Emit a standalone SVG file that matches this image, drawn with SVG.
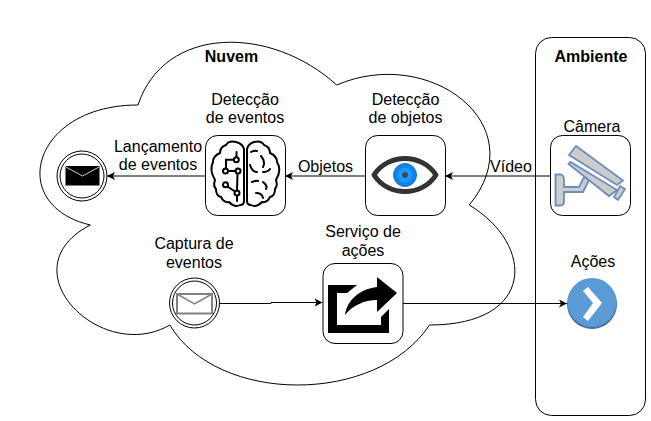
<svg xmlns="http://www.w3.org/2000/svg" width="651" height="421" viewBox="0 0 651 421">
<style>
text{font-family:"Liberation Sans",Arial,sans-serif;font-size:16px;fill:#000;text-anchor:middle}
.b{font-weight:bold}
.box{fill:#fff;stroke:#000;stroke-width:1}
.conn{fill:none;stroke:#000;stroke-width:1}
.brain{fill:none;stroke:#000;stroke-width:2;stroke-linecap:round}
.cam{fill:#ccc;stroke:#6c8ebf;stroke-width:1.800}
</style>
<defs>
<marker id="arrow" markerUnits="userSpaceOnUse" markerWidth="10" markerHeight="10" refX="8" refY="4" orient="auto">
<path d="M0 0L8 4L0 8L2 4Z" fill="#000"/>
</marker>
</defs>
<rect width="651" height="421" fill="#fff"/>
<g id="nuvem">
<path d="M138 105C32 105 5.500 205 90.300 225C5.500 269 100.900 365 169.800 325C217.500 405 376.500 405 429.500 325C535.500 325 535.500 245 469.250 205C535.500 125 429.500 45 336.750 85C270.500 25 164.500 25 138 105Z" fill="#fff" stroke="#000" stroke-width="1"/>
<text class="b" x="231.500" y="62">Nuvem</text>
</g>
<g id="ambiente">
<rect x="535.500" y="37.500" width="110" height="378" rx="16" fill="none" stroke="#000"/>
<text class="b" x="591" y="62">Ambiente</text>
</g>
<g id="connectors">
<path class="conn" d="M205 176H107" marker-end="url(#arrow)"/>
<path class="conn" d="M365 176H285" marker-end="url(#arrow)"/>
<path class="conn" d="M550 176H445" marker-end="url(#arrow)"/>
<path class="conn" d="M219 303.500H271V302.500H322.500" marker-end="url(#arrow)"/>
<path class="conn" d="M403 303.500H567" marker-end="url(#arrow)"/>
</g>
<g id="lancamento">
<circle cx="82" cy="176" r="25" fill="#fff" stroke="#000"/>
<circle cx="82" cy="176" r="22" fill="none" stroke="#000"/>
<rect x="65.500" y="166" width="34" height="19.500" fill="#000"/>
<path d="M66 167L82.500 176L99 167" fill="none" stroke="#fff" stroke-width="0.800"/>
<text x="158" y="151.500">Lançamento</text>
<text x="158" y="170">de eventos</text>
</g>
<g id="deteccao-eventos">
<rect class="box" x="205.500" y="135.500" width="80" height="80" rx="12"/>
<path class="brain" d="M244 201V149Q243 144 236 142Q229 140 226 145Q220 147 220 153Q213 156 213 162Q209 170 215 180Q213 186 216 189Q216 196 221 197Q224 203 229 202Q235 208 240 205Q244 205 244 201Z"/>
<path class="brain" d="M247 201V149Q248 144 254 142Q261 140 264 145Q270 147 270 153Q277 156 277 162Q282 170 276 180Q278 186 275 189Q275 196 270 197Q267 203 262 202Q256 208 251 205Q247 205 247 201Z"/>
<path class="brain" d="M236.500 152V157M233.800 159.700H226V168.500M228 171H235.500M237.500 174L237 190.500M237 195.500V201M227.500 186.500L235 191.500"/>
<circle class="brain" cx="236.300" cy="159.700" r="2.500"/>
<circle class="brain" cx="238" cy="171" r="2.500"/>
<circle class="brain" cx="225.500" cy="171" r="2.500"/>
<circle class="brain" cx="225.500" cy="184.700" r="2.500"/>
<circle class="brain" cx="237" cy="193" r="2.500"/>
<path class="brain" d="M251 152Q254 150 257 151M261 156Q266 162 263 167M250 165Q252 172 257 172M263 172Q268 172 270 169M252 182Q256 180 258 181M263 182Q268 186 266 189M256 193Q262 193 263 198"/>
<text x="245" y="105">Detecção</text>
<text x="245" y="123">de eventos</text>
</g>
<g id="deteccao-objetos">
<rect class="box" x="365.500" y="135.500" width="80" height="80" rx="12"/>
<path d="M374 175C388 153 422 153 436 175C422 197 388 197 374 175Z" fill="#fff" stroke="#333" stroke-width="5" stroke-linejoin="round"/>
<circle cx="405" cy="175" r="11.500" fill="#0a84ee" stroke="#2a6fb0"/>
<circle cx="405" cy="175" r="7.500" fill="#1e9bff"/>
<circle cx="405" cy="175" r="3" fill="#3c4a5a"/>
<text x="405.500" y="105">Detecção</text>
<text x="405.500" y="123">de objetos</text>
</g>
<g id="camera">
<rect class="box" x="550.500" y="135.500" width="80" height="80" rx="12"/>
<path class="cam" d="M555.500 174.500H561Q564 175.500 564 180V187H579L584 177L589 180L583 192H564V202Q564 205.500 560 205.500H555.500Z"/>
<path class="cam" d="M568.500 164L570.500 162L617 190L609 196Z"/>
<path class="cam" d="M569 155L576 146L623 180.500L617 185Z"/>
<path class="cam" d="M620 186L625 189L618 200L614 197Z"/>
<text x="592" y="131.500">Câmera</text>
<text x="511" y="171.500">Vídeo</text>
</g>
<text x="325.500" y="171.500">Objetos</text>
<g id="captura">
<circle cx="194.500" cy="303" r="25" fill="#fff" stroke="#000"/>
<circle cx="194.500" cy="303" r="22" fill="none" stroke="#000"/>
<rect x="177" y="294" width="35" height="19.500" fill="#fff" stroke="#808080" stroke-width="2"/>
<path d="M177 294L194.500 304L212 294" fill="none" stroke="#808080" stroke-width="1.500"/>
<text x="194" y="249">Captura de</text>
<text x="194" y="268">eventos</text>
</g>
<g id="servico">
<rect class="box" x="323" y="263.500" width="80" height="80" rx="12"/>
<path d="M328 285H357L347 293H337V325H381V317L389 309V333H328Z" fill="#000"/>
<path d="M397 293L377 277V287C360 289 347 300 345 315C352 306 364 300 377 300V312Z" fill="#000"/>
<text x="363" y="237">Serviço de</text>
<text x="363" y="256">ações</text>
</g>
<g id="acoes">
<circle cx="592" cy="304" r="25" fill="#3f6f9f"/>
<circle cx="592" cy="302.500" r="24.500" fill="#5b9bd5"/>
<path d="M583 291L588 287L602 303L588 321L583 317L593 303Z" fill="#fff"/>
<text x="593" y="267">Ações</text>
</g>
</svg>
